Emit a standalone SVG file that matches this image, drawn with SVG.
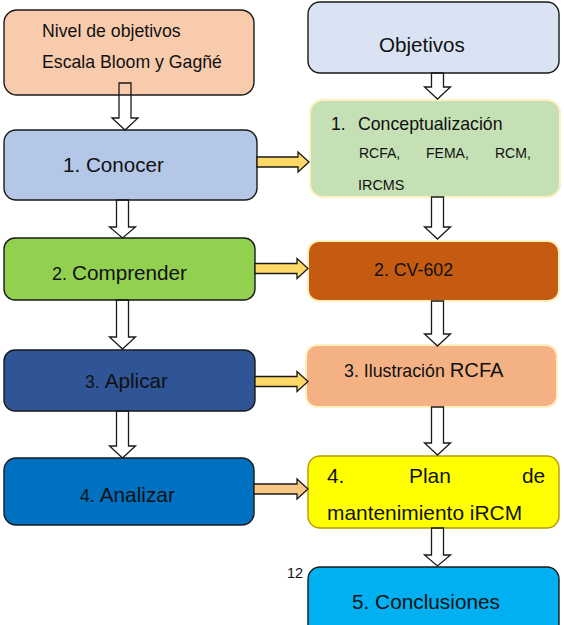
<svg xmlns="http://www.w3.org/2000/svg" width="564" height="625" viewBox="0 0 564 625">
<style>
  text { font-family: "Liberation Sans", Arial, sans-serif; fill: #111; }
  .box { stroke: #1a1a1a; stroke-width: 1.4; }
  .glow { stroke: #FFF0C0; stroke-width: 2; }
  .down { fill: none; stroke: #1a1a1a; stroke-width: 1.3; stroke-linejoin: miter; }
  .side { stroke: #1a1a1a; stroke-width: 1.3; stroke-linejoin: miter; }
</style>
<rect width="564" height="625" fill="#ffffff"/>

<g id="n-nivel">
  <rect class="box" x="4" y="10" width="250" height="85" rx="13" fill="#F8CBAD"/>
  <text x="42" y="37" font-size="17.7">Nivel de objetivos</text>
  <text x="42" y="68" font-size="17.7">Escala Bloom y Gagñé</text>
</g>
<g id="n-conocer">
  <rect class="box" x="4" y="130" width="253" height="70" rx="12" fill="#B4C7E7"/>
  <text x="63" y="172" font-size="20.6">1. Conocer</text>
</g>
<g id="n-comprender">
  <rect class="box" x="4" y="238" width="251" height="62" rx="11" fill="#92D050"/>
  <text x="52" y="280" font-size="20.7"><tspan font-size="18">2. </tspan>Comprender</text>
</g>
<g id="n-aplicar">
  <rect class="box" x="4" y="350" width="251" height="61" rx="11" fill="#2F5597"/>
  <text x="85" y="388" font-size="20.7"><tspan font-size="17.7">3. </tspan>Aplicar</text>
</g>
<g id="n-analizar">
  <rect class="box" x="4" y="458" width="250" height="67" rx="12" fill="#0070C0"/>
  <text x="80" y="502" font-size="20.8"><tspan font-size="17.7">4. </tspan>Analizar</text>
</g>

<g id="n-objetivos">
  <rect class="box" x="308" y="2" width="251" height="71" rx="12" fill="#DAE3F3"/>
  <text x="379" y="52" font-size="20.6">Objetivos</text>
</g>
<g id="n-concept">
  <rect class="glow" x="310" y="100" width="250" height="97" rx="13" fill="#C5E0B4"/>
  <text x="331" y="130" font-size="17.7">1.</text>
  <text x="358" y="130" font-size="17.7">Conceptualización</text>
  <text x="359" y="158" font-size="14">RCFA,</text>
  <text x="426" y="158" font-size="14">FEMA,</text>
  <text x="495" y="158" font-size="14">RCM,</text>
  <text x="358" y="190" font-size="14.4">IRCMS</text>
</g>
<g id="n-cv602">
  <rect class="glow" x="308" y="241" width="251" height="60" rx="11" fill="#C55A11"/>
  <text x="374" y="276" font-size="17.8">2. CV-602</text>
</g>
<g id="n-ilustracion">
  <rect class="glow" x="306" y="345" width="251" height="62" rx="11" fill="#F4B183"/>
  <text x="344" y="377" font-size="17.8">3. Ilustración <tspan font-size="20.2">RCFA</tspan></text>
</g>
<g id="n-plan">
  <rect x="308" y="456" width="251" height="72" rx="12" fill="#FFFF00" stroke="#B89A00" stroke-width="1.4"/>
  <text x="327" y="483" font-size="20.9">4.</text>
  <text x="409" y="483" font-size="20.9">Plan</text>
  <text x="522" y="483" font-size="20.9">de</text>
  <text x="327" y="520" font-size="20.9">mantenimiento iRCM</text>
</g>
<g id="n-conclusiones">
  <rect class="box" x="308" y="567" width="251" height="75" rx="12" fill="#00B0F0"/>
  <text x="352" y="609" font-size="20.8">5. Conclusiones</text>
</g>
<g id="page-number">
  <text x="287" y="578" font-size="14.5">12</text>
</g>

<g id="connectors">
  <path class="down" d="M119 83 H131 V118 H138 L125 130 L112 118 H119 Z"/>
  <path class="down" d="M116.5 200 H128.5 V227 H135.5 L122.5 238 L109.5 227 H116.5 Z"/>
  <path class="down" d="M116.5 300 H128.5 V337 H135.5 L122.5 349 L109.5 337 H116.5 Z"/>
  <path class="down" d="M116.5 411 H128.5 V446 H135.5 L122.5 458 L109.5 446 H116.5 Z"/>

  <path class="down" d="M431.5 73 H443.5 V87 H450.5 L437.5 99 L424.5 87 H431.5 Z"/>
  <path class="down" d="M431.5 197 H443.5 V227 H450.5 L437.5 239 L424.5 227 H431.5 Z"/>
  <path class="down" d="M431.5 301 H443.5 V334 H450.5 L437.5 346 L424.5 334 H431.5 Z"/>
  <path class="down" d="M431.5 407 H443.5 V443 H450.5 L437.5 455 L424.5 443 H431.5 Z"/>
  <path class="down" d="M431.5 528 H443.5 V555 H450.5 L437.5 566 L424.5 555 H431.5 Z"/>

  <path class="side" fill="#FFD966" d="M257 157 H298 V152 L309 162 L298 172 V167 H257 Z"/>
  <path class="side" fill="#FFD966" d="M255 263.5 H297 V258.5 L308 268.5 L297 278.5 V273.5 H255 Z"/>
  <path class="side" fill="#FFD966" d="M255 376.5 H297 V371.5 L308 381.5 L297 391.5 V386.5 H255 Z"/>
  <path class="side" fill="#F9C784" d="M254 484 H297 V479 L308 489 L297 499 V494 H254 Z"/>
</g>
</svg>
